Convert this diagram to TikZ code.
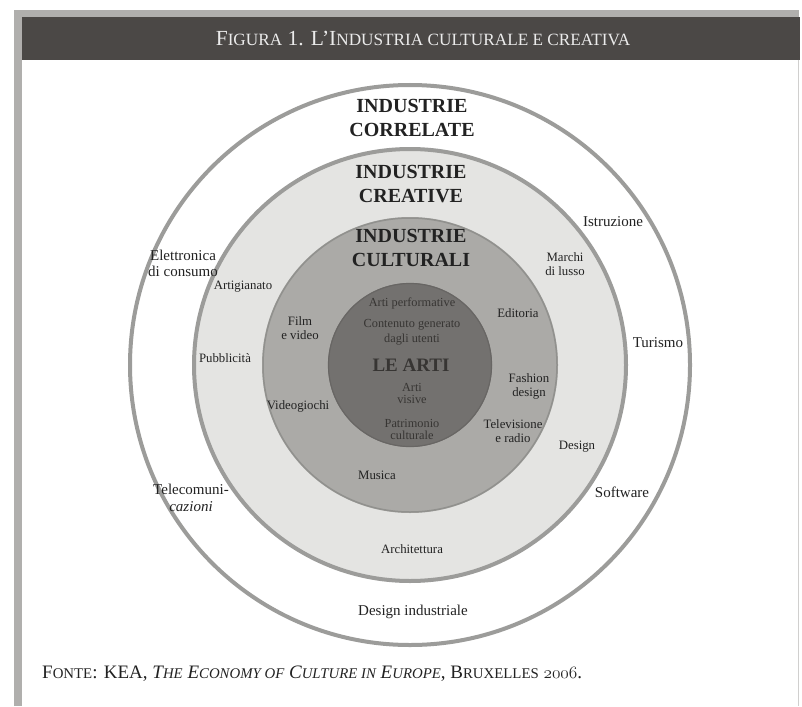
\documentclass[tikz,border=0pt]{standalone}
\usepackage{fontspec}
\setmainfont{Liberation Serif}
\definecolor{bandgray}{HTML}{4B4846}
\definecolor{framegray}{HTML}{B0AFAD}
\definecolor{ringgray}{HTML}{9C9C9A}
\definecolor{lightdisc}{HTML}{E4E4E2}
\definecolor{middisc}{HTML}{ABAAA7}
\definecolor{darkdisc}{HTML}{73716F}
\definecolor{inktext}{HTML}{222222}
\definecolor{innertext}{HTML}{373533}
\newcommand\smc[1]{\scalebox{0.78}{#1}}
\newcommand\osnum[1]{{\usefont{OML}{cmm}{m}{it}#1}}
\tikzset{
  lbl/.style={inner sep=0pt, align=center, text=inktext, font=\fontsize{12.8}{14}\selectfont},
  outerlbl/.style={inner sep=0pt, align=center, text=inktext, font=\fontsize{15}{16}\selectfont},
  innerlbl/.style={inner sep=0pt, align=center, text=innertext, font=\fontsize{12.3}{13}\selectfont},
  heading/.style={inner sep=0pt, align=center, text=inktext, font=\bfseries\fontsize{20}{23.5}\selectfont},
  ring/.style={draw=ringgray, line width=4pt}
}
\begin{document}
\begin{tikzpicture}[x=1pt,y=-1pt]
\useasboundingbox (0,0) rectangle (802,706);
\fill[white] (0,0) rectangle (802,706);
% frame
\fill[framegray] (14,10) rectangle (799,17);
\fill[framegray] (14,10) rectangle (22,706);
\fill[bandgray] (22,17) rectangle (800,60);
\draw[framegray!60, line width=0.8pt] (798,60) -- (798,706);
\node[inner sep=0pt, text=white!92!black, font=\fontsize{21.5}{24}\selectfont] (title) at (423,39)
  {F\scalebox{0.8}{IGURA} 1. L’I\scalebox{0.8}{NDUSTRIA CULTURALE E CREATIVA}};
% circles
\coordinate (c) at (410,365);
\draw[ring, fill=white] (c) circle[radius=280];
\draw[ring, fill=lightdisc] (c) circle[radius=216];
\fill[middisc] (c) circle[radius=148];
\draw[middisc!85!black, line width=1.5pt] (c) circle[radius=147];
\fill[darkdisc] (c) circle[radius=82];
\draw[darkdisc!90!black, line width=1.2pt] (c) circle[radius=81.5];
% headings
\node[heading] (hcorr) at (412,118) {INDUSTRIE\\CORRELATE};
\node[heading] (hcrea) at (411,184) {INDUSTRIE\\CREATIVE};
\node[heading] (hcult) at (411,248) {INDUSTRIE\\CULTURALI};
% inner circle
\node[innerlbl] (perf) at (412,303) {Arti performative};
\node[innerlbl, font=\fontsize{12.3}{15}\selectfont] (cont) at (412,332) {Contenuto generato\\dagli utenti};
\node[inner sep=0pt, text=innertext, font=\bfseries\fontsize{19}{20}\selectfont] (learti) at (411,365) {LE ARTI};
\node[innerlbl, font=\fontsize{12.3}{12}\selectfont] (visive) at (412,393) {Arti\\visive};
\node[innerlbl, font=\fontsize{12.3}{12}\selectfont] (patr) at (412,429) {Patrimonio\\culturale};
% cultural industries
\node[lbl] (film) at (300,328) {Film\\e video};
\node[lbl] (video) at (298,406) {Videogiochi};
\node[lbl] (edit) at (518,313) {Editoria};
\node[lbl] (fash) at (529,386) {Fashion\\design};
\node[lbl] (tv) at (513,431) {Televisione\\e radio};
\node[lbl] (mus) at (377,475) {Musica};
% creative industries
\node[lbl] (artig) at (243,287) {Artigianato};
\node[lbl] (pubb) at (225,358) {Pubblicità};
\node[lbl] (marchi) at (565,264) {Marchi\\di lusso};
\node[lbl] (design) at (577,447) {Design};
\node[lbl] (arch) at (412,549) {Architettura};
% related industries
\node[outerlbl] (istr) at (613,222) {Istruzione};
\node[outerlbl] (elett) at (183,263) {Elettronica\\di consumo};
\node[outerlbl] (tur) at (658,343) {Turismo};
\node[outerlbl, font=\fontsize{15}{17}\selectfont] (tele) at (191,498) {Telecomuni-\\\textit{cazioni}};
\node[outerlbl] (soft) at (622,492) {Software};
\node[outerlbl] (desind) at (413,612) {Design industriale};
% source
\node[anchor=west, inner sep=0pt, text=inktext, font=\fontsize{19}{20}\selectfont] (fonte) at (42,674)
  {F\smc{ONTE}: KEA, \textit{T\smc{HE} E\smc{CONOMY OF} C\smc{ULTURE IN} E\smc{UROPE}}, B\smc{RUXELLES} \osnum{2006}.};
\end{tikzpicture}
\end{document}
